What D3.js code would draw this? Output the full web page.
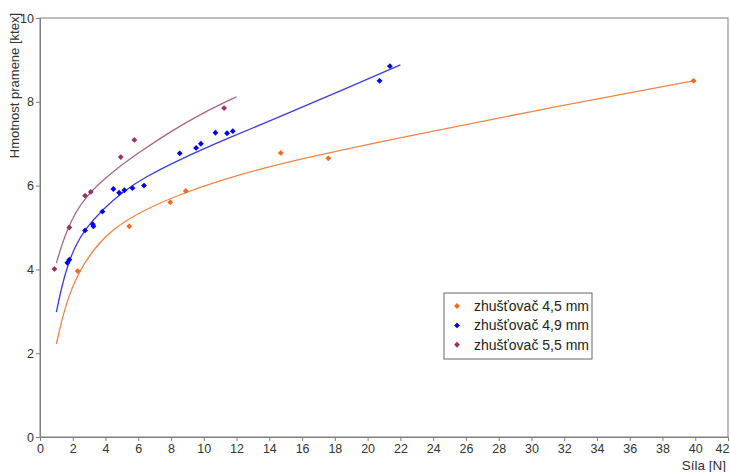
<!DOCTYPE html>
<html>
<head>
<meta charset="utf-8">
<script src="https://cdn.jsdelivr.net/npm/d3@7"></script>
<style>
    body { margin: 0; background: #fff; }
    svg { font-family: "Liberation Sans", Arial, sans-serif; }
    .axis text { fill: #333; font-size: 12.5px; }
    .axis path, .axis line { stroke: #7f7f7f; }
</style>
</head>
<body>
<svg id="chart" width="730" height="472"></svg>
<script>
// measured points, one list per nozzle
const seriesNames = ['zhušťovač 4,5 mm', 'zhušťovač 4,9 mm', 'zhušťovač 5,5 mm'];

const pts45 = [
    [2.3, 3.96], [5.45, 5.03], [7.95, 5.6], [8.9, 5.87],
    [14.7, 6.78], [17.6, 6.65], [39.9, 8.5]
];
const pts49 = [
    [1.67, 4.16], [1.79, 4.23], [2.75, 4.93], [3.22, 5.08], [3.26, 5.03],
    [3.81, 5.38], [4.48, 5.92], [4.83, 5.83], [5.15, 5.89], [5.64, 5.94],
    [6.35, 6.0], [8.53, 6.77], [9.53, 6.9], [9.82, 7.0], [10.71, 7.26],
    [11.42, 7.25], [11.77, 7.3], [20.73, 8.5], [21.36, 8.85]
];
const pts55 = [
    [0.88, 4.01], [1.79, 5.0], [2.75, 5.76], [3.1, 5.85],
    [4.93, 6.68], [5.76, 7.09], [11.24, 7.85]
];

// trend lines
const trend45 = [
    [1.0, 2.22], [1.3, 2.75], [1.7, 3.3], [2.3, 3.9], [3.3, 4.5], [4.4, 4.95],
    [6.2, 5.4], [8.9, 5.85], [12, 6.25], [16, 6.65], [22, 7.15],
    [31, 7.85], [39.9, 8.5]
];
const trend49 = [
    [1.0, 2.98], [1.3, 3.55], [1.7, 4.12], [2.2, 4.6], [2.8, 4.98], [3.8, 5.42],
    [5.0, 5.84], [6.4, 6.2], [8.5, 6.62], [11.4, 7.12], [14.5, 7.62], [18, 8.2],
    [22.0, 8.88]
];
const trend55 = [
    [1.0, 4.15], [1.3, 4.55], [1.7, 4.98], [2.2, 5.38], [2.8, 5.72], [3.6, 6.05],
    [4.6, 6.38], [6.0, 6.78], [8.0, 7.3], [10, 7.75], [12.0, 8.12]
];

const xTicks = d3.range(0, 43, 2);
const yTicks = [0, 2, 4, 6, 8, 10];

const pointColors = ['#f26b21', '#0000ee', '#993366'];
const lineColors = ['#f0854a', '#3b3be6', '#a5668a'];

const margin = {top: 18, right: 2, bottom: 35, left: 40};
const svg = d3.select('#chart');
const W = +svg.attr('width'), H = +svg.attr('height');
const w = W - margin.left - margin.right, h = H - margin.top - margin.bottom;

const x = d3.scaleLinear().domain([0, 42]).range([0, w]);
const y = d3.scaleLinear().domain([0, 10]).range([h, 0]);

const g = svg.append('g').attr('transform', `translate(${margin.left},${margin.top})`);

// frame
g.append('rect')
    .attr('width', w).attr('height', h)
    .attr('fill', 'none').attr('stroke', '#7f7f7f');

g.append('g')
    .attr('class', 'axis')
    .attr('transform', `translate(0,${h})`)
    .call(d3.axisBottom(x).tickValues(xTicks).tickSize(4).tickSizeOuter(0).tickPadding(3))
    .selectAll('text')
        .filter(d => d == 42)
        .attr('text-anchor', 'end')
        .attr('dx', 1);

g.append('g')
    .attr('class', 'axis')
    .call(d3.axisLeft(y).tickValues(yTicks).tickSize(4).tickSizeOuter(0).tickPadding(2));

svg.append('text')
    .attr('x', 726).attr('y', 470)
    .attr('text-anchor', 'end')
    .attr('font-size', 13.5).attr('fill', '#333')
    .text('Síla [N]');

svg.append('text')
    .attr('transform', 'translate(19,13) rotate(-90)')
    .attr('text-anchor', 'end')
    .attr('font-size', 13).attr('fill', '#333')
    .text('Hmotnost pramene [ktex]');

const line = d3.line()
    .x(d => x(d[0]))
    .y(d => y(d[1]))
    .curve(d3.curveBasis);

[trend45, trend49, trend55].forEach((t, i) => {
    g.append('path')
        .attr('d', line(t))
        .attr('fill', 'none')
        .attr('stroke', lineColors[i])
        .attr('stroke-width', 1.3);
});

const diamond = d3.symbol().type(d3.symbolDiamond2).size(22);

[pts45, pts49, pts55].forEach((pts, i) => {
    g.append('g')
        .selectAll('path')
        .data(pts)
        .join('path')
            .attr('d', diamond)
            .attr('transform', d => `translate(${x(d[0])},${y(d[1])})`)
            .attr('fill', pointColors[i]);
});

// legend
const lg = svg.append('g').attr('transform', 'translate(444,293)');
lg.append('rect')
    .attr('width', 148).attr('height', 66)
    .attr('fill', '#fff').attr('stroke', '#666');

seriesNames.forEach((name, i) => {
    const row = lg.append('g').attr('transform', `translate(0,${13 + i * 19.4})`);
    row.append('path')
        .attr('d', diamond)
        .attr('transform', 'translate(13,0)')
        .attr('fill', pointColors[i]);
    row.append('text')
        .attr('x', 30).attr('dy', '0.35em')
        .attr('font-size', 14).attr('fill', '#222')
        .text(name);
});
</script>
</body>
</html>
